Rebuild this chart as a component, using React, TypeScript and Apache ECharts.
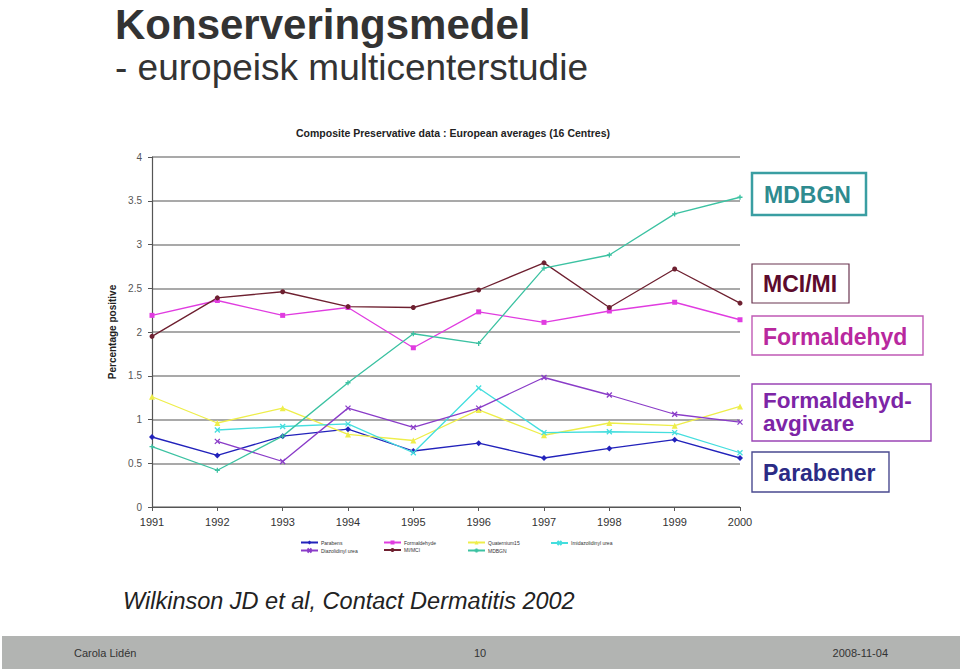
import React, { useEffect, useRef } from "react";
import * as echarts from "echarts";

const years = ["1991", "1992", "1993", "1994", "1995", "1996", "1997", "1998", "1999", "2000"];
const parabens = [0.8, 0.59, 0.81, 0.89, 0.64, 0.73, 0.56, 0.67, 0.77, 0.56];
const formaldehyde = [2.19, 2.36, 2.19, 2.28, 1.82, 2.23, 2.11, 2.24, 2.34, 2.14];
const quaternium15 = [1.26, 0.96, 1.13, 0.83, 0.76, 1.11, 0.82, 0.96, 0.93, 1.15];
const imidazolidinylUrea = [null, 0.88, 0.92, 0.95, 0.62, 1.36, 0.85, 0.86, 0.85, 0.62];
const diazolidinylUrea = [null, 0.75, 0.52, 1.13, 0.91, 1.13, 1.48, 1.28, 1.06, 0.97];
const miMci = [1.95, 2.39, 2.46, 2.29, 2.28, 2.48, 2.79, 2.28, 2.72, 2.33];
const mdbgn = [0.69, 0.42, 0.81, 1.42, 1.98, 1.87, 2.73, 2.88, 3.35, 3.54];

const seriesNames = [
  "Parabens",
  "Formaldehyde",
  "Quaternium15",
  "Imidazolidinyl urea",
  "Diazolidinyl urea",
  "MI/MCI",
  "MDBGN",
];

const SANS = '"Liberation Sans", Arial, Helvetica, sans-serif';
const CROSS = "path://M0,0L10,10M10,0L0,10";
const PLUS = "path://M5,0L5,10M0,5L10,5";

function lineSeries(name: string, data: (number | null)[], color: string, symbol: string, size: number) {
  return {
    name,
    type: "line",
    data,
    symbol,
    symbolSize: size,
    showSymbol: true,
    connectNulls: false,
    lineStyle: { color, width: 1.3 },
    itemStyle: { color, borderColor: color, borderWidth: symbol.startsWith("path") ? 1.3 : 0 },
    emphasis: { disabled: true },
    z: 3,
  };
}

function legendAt(name: string, left: number, top: number) {
  return {
    data: [name],
    left,
    top,
    padding: 0,
    itemWidth: 17,
    itemHeight: 5,
    itemGap: 0,
    selectedMode: false,
    textStyle: { fontSize: 5, color: "#333", fontFamily: SANS, padding: [0, 0, 0, -2] },
  };
}

function boxText(text: string, x: number, baseline: number, color: string) {
  return {
    type: "text",
    x,
    y: baseline - 8,
    style: {
      text,
      font: `bold 23px ${SANS}`,
      fill: color,
      verticalAlign: "middle",
    },
  };
}

export default function App() {
  const ref = useRef<HTMLDivElement>(null);

  useEffect(() => {
    if (!ref.current) return;
    const chart = echarts.init(ref.current, null, { renderer: "svg" });
    const option = {
      animation: false,
      backgroundColor: "#ffffff",
      grid: { left: 152, right: 220, top: 157, bottom: 162 },
      legend: [
        legendAt(seriesNames[0], 300, 540),
        legendAt(seriesNames[1], 383, 540),
        legendAt(seriesNames[2], 467, 540),
        legendAt(seriesNames[3], 550, 540),
        legendAt(seriesNames[4], 300, 547.5),
        legendAt(seriesNames[5], 383, 547.5),
        legendAt(seriesNames[6], 467, 547.5),
      ],
      xAxis: {
        type: "category",
        data: years,
        boundaryGap: false,
        axisLine: { show: true, lineStyle: { color: "#555", width: 1.2 } },
        axisTick: { show: true, length: 4, lineStyle: { color: "#555" } },
        axisLabel: { color: "#333", fontSize: 11, margin: 9, fontFamily: SANS },
        splitLine: { show: false },
      },
      yAxis: {
        type: "value",
        min: 0,
        max: 4,
        interval: 0.5,
        name: "Percentage positive",
        nameLocation: "middle",
        nameRotate: 90,
        nameGap: 27,
        nameTextStyle: { fontSize: 10, fontWeight: "bold", color: "#222", fontFamily: SANS },
        axisLine: { show: true, lineStyle: { color: "#555", width: 1.2 } },
        axisTick: { show: true, length: 4, lineStyle: { color: "#555" } },
        axisLabel: { color: "#555", fontSize: 10, margin: 10, fontFamily: SANS },
        splitLine: { show: true, lineStyle: { color: "#8c8c8c", width: 1.5 } },
      },
      series: [
        lineSeries(seriesNames[0], parabens, "#2222bb", "diamond", 6),
        lineSeries(seriesNames[1], formaldehyde, "#e03ce0", "rect", 5),
        lineSeries(seriesNames[2], quaternium15, "#eeee4a", "triangle", 6),
        lineSeries(seriesNames[3], imidazolidinylUrea, "#44dede", CROSS, 5),
        lineSeries(seriesNames[4], diazolidinylUrea, "#8a3cc8", CROSS, 5),
        lineSeries(seriesNames[5], miMci, "#6e2030", "circle", 5),
        lineSeries(seriesNames[6], mdbgn, "#3cc2a2", PLUS, 5),
      ],
      graphic: [
        {
          type: "text",
          x: 115,
          y: 24,
          style: {
            text: "Konserveringsmedel",
            font: `bold 42px ${SANS}`,
            fill: "#333333",
            verticalAlign: "middle",
          },
        },
        {
          type: "text",
          x: 115,
          y: 67,
          style: {
            text: "- europeisk multicenterstudie",
            font: `37px ${SANS}`,
            fill: "#333333",
            verticalAlign: "middle",
          },
        },
        {
          type: "text",
          x: 453,
          y: 133,
          style: {
            text: "Composite Preservative data : European averages (16 Centres)",
            font: `bold 10.5px ${SANS}`,
            fill: "#222",
            align: "center",
            verticalAlign: "middle",
          },
        },
        { type: "rect", shape: { x: 752, y: 173, width: 114, height: 42 }, style: { fill: "#fff", stroke: "#3a9ea2", lineWidth: 2.5 } },
        boxText("MDBGN", 764, 203, "#2e8b8f"),
        { type: "rect", shape: { x: 752, y: 264, width: 97, height: 39 }, style: { fill: "#fff", stroke: "#6b3550", lineWidth: 1.2 } },
        boxText("MCI/MI", 763, 292, "#5c0a2c"),
        { type: "rect", shape: { x: 752, y: 316, width: 171, height: 39 }, style: { fill: "#fff", stroke: "#c05ab5", lineWidth: 1.4 } },
        boxText("Formaldehyd", 763, 345, "#b8289e"),
        { type: "rect", shape: { x: 752, y: 384, width: 179, height: 57 }, style: { fill: "#fff", stroke: "#9a45b5", lineWidth: 1.4 } },
        {
          type: "text",
          x: 763,
          y: 400,
          style: {
            text: "Formaldehyd-",
            font: `bold 22.5px ${SANS}`,
            fill: "#7d25a6",
            verticalAlign: "middle",
          },
        },
        {
          type: "text",
          x: 763,
          y: 423,
          style: {
            text: "avgivare",
            font: `bold 22.5px ${SANS}`,
            fill: "#7d25a6",
            verticalAlign: "middle",
          },
        },
        { type: "rect", shape: { x: 752, y: 452, width: 137, height: 40 }, style: { fill: "#fff", stroke: "#4a4a90", lineWidth: 1.4 } },
        boxText("Parabener", 763, 481, "#2b2b85"),
        {
          type: "text",
          x: 123,
          y: 601,
          style: {
            text: "Wilkinson JD et al, Contact Dermatitis 2002",
            font: `italic 23.5px ${SANS}`,
            fill: "#222",
            verticalAlign: "middle",
          },
        },
        { type: "rect", shape: { x: 2, y: 636, width: 958, height: 33 }, style: { fill: "#b2b4b2" } },
        {
          type: "text",
          x: 74,
          y: 653,
          style: { text: "Carola Lidén", font: `11px ${SANS}`, fill: "#333", verticalAlign: "middle" },
        },
        {
          type: "text",
          x: 480,
          y: 653,
          style: { text: "10", font: `11px ${SANS}`, fill: "#333", align: "center", verticalAlign: "middle" },
        },
        {
          type: "text",
          x: 888,
          y: 653,
          style: { text: "2008-11-04", font: `11px ${SANS}`, fill: "#333", align: "right", verticalAlign: "middle" },
        },
      ],
    };
    chart.setOption(option as any);
    return () => chart.dispose();
  }, []);

  return (
    <div
      ref={ref}
      style={{ position: "fixed", left: 0, top: 0, width: 960, height: 669, background: "#fff" }}
    />
  );
}
